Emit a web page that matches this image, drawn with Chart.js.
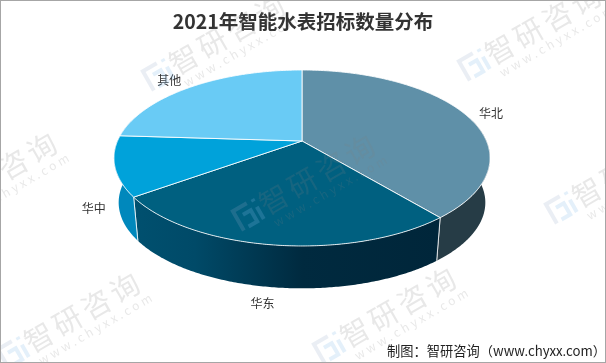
<!DOCTYPE html>
<html>
<head>
<meta charset="utf-8">
<style>
  html, body { margin: 0; padding: 0; background: #fff; }
  canvas { display: block; }
</style>
<script src="https://cdn.jsdelivr.net/npm/chart.js@4/dist/chart.umd.min.js"></script>
</head>
<body>
<canvas id="pie" width="606" height="363"></canvas>
<script>
const regions = ["华北", "华东", "华中", "其他"];
const shares = [39, 26, 11, 24];

const topColors = ["#5F90A8", "#006080", "#00A2DA", "#69CBF5"];
const wallStops = [
  [[0, "#263C46"], [1, "#263C46"]],
  [[0, "#00263A"], [0.45, "#002A3F"], [0.8, "#004A68"], [1, "#00506F"]],
  [[0, "#0088BC"], [1, "#0088BC"]],
  [[0, "#4FA8CC"], [1, "#4FA8CC"]],
];
const labelOffsets = [[26, -1], [-11, 59], [-21, 42], [-22, -6]];
const FONT = '"Noto Sans CJK SC", "Noto Sans", sans-serif';

// perspective of the tilted disc
const view = { cx: 302, cy: 141, rx: 184.5, ry: 84.7, tilt: 0.193, shrink: 0.975, drop: 45 };

function project(angle, shrink, drop) {
  const u = Math.cos(angle), v = Math.sin(angle);
  const w = 1 - view.tilt * v;
  return {
    x: view.cx + shrink * view.rx * u / w,
    y: view.cy + drop + shrink * view.ry * v / w,
  };
}

function traceRim(ctx, from, to, shrink, drop) {
  const steps = Math.max(2, Math.ceil(Math.abs(to - from) / 0.01));
  for (let i = 0; i <= steps; i++) {
    const p = project(from + (to - from) * i / steps, shrink, drop);
    ctx.lineTo(p.x, p.y);
  }
}

function drawWalls(ctx, arcs) {
  const lo = -0.25, hi = Math.PI + 0.25;
  arcs.forEach((arc, i) => {
    // angles can run past 2PI, bring them near the front of the disc
    let a = arc.startAngle, b = arc.endAngle;
    if (a > Math.PI * 1.5) { a -= Math.PI * 2; b -= Math.PI * 2; }
    const from = Math.max(a, lo), to = Math.min(b, hi);
    if (to <= from) return;
    const p1 = project(from, 1, 0), p2 = project(to, 1, 0);
    const grad = ctx.createLinearGradient(Math.max(p1.x, p2.x), 0, Math.min(p1.x, p2.x), 0);
    wallStops[i].forEach(s => grad.addColorStop(s[0], s[1]));
    ctx.beginPath();
    traceRim(ctx, from, to, 1, 0);
    traceRim(ctx, to, from, view.shrink, view.drop);
    ctx.closePath();
    ctx.fillStyle = grad;
    ctx.fill();
    // white seam where two walls meet
    ctx.strokeStyle = "rgba(255,255,255,0.75)";
    ctx.lineWidth = 1;
    [a, b].forEach(edge => {
      if (edge <= lo || edge >= hi) return;
      const t = project(edge, 1, 0), e = project(edge, view.shrink, view.drop);
      ctx.beginPath();
      ctx.moveTo(t.x, t.y);
      ctx.lineTo(e.x, e.y);
      ctx.stroke();
    });
  });
}

function drawFaces(ctx, arcs) {
  arcs.forEach((arc, i) => {
    ctx.beginPath();
    ctx.moveTo(view.cx, view.cy);
    traceRim(ctx, arc.startAngle, arc.endAngle, 1, 0);
    ctx.closePath();
    ctx.fillStyle = topColors[i];
    ctx.fill();
    ctx.strokeStyle = "rgba(255,255,255,0.85)";
    ctx.lineWidth = 1;
    ctx.stroke();
  });
}

function drawLabels(ctx, arcs) {
  ctx.font = "12px " + FONT;
  ctx.fillStyle = "#333";
  ctx.textAlign = "center";
  ctx.textBaseline = "middle";
  arcs.forEach((arc, i) => {
    const p = project((arc.startAngle + arc.endAngle) / 2, 1, 0);
    ctx.fillText(regions[i], p.x + labelOffsets[i][0], p.y + labelOffsets[i][1]);
  });
}

function drawMark(ctx, x, y) {
  ctx.save();
  ctx.translate(x, y);
  ctx.rotate(-Math.PI / 6);
  // logo
  ctx.lineWidth = 4;
  ctx.strokeStyle = "rgba(150,170,200,0.2)";
  ctx.beginPath();
  ctx.moveTo(-14, 12); ctx.lineTo(-14, -10); ctx.lineTo(2, -10);
  ctx.stroke();
  ctx.strokeStyle = "rgba(130,185,230,0.22)";
  ctx.beginPath();
  ctx.moveTo(-7, -2); ctx.lineTo(2, -2); ctx.lineTo(2, 11); ctx.lineTo(-8, 11);
  ctx.moveTo(9, -2); ctx.lineTo(9, 12);
  ctx.moveTo(9, -11); ctx.lineTo(9, -8);
  ctx.stroke();
  // text
  ctx.fillStyle = "rgba(130,130,130,0.18)";
  ctx.textAlign = "left";
  ctx.textBaseline = "middle";
  ctx.font = "29px " + FONT;
  ctx.letterSpacing = "4px";
  ctx.fillText("智研咨询", 13, 0);
  ctx.font = "12px " + FONT;
  ctx.letterSpacing = "3.2px";
  ctx.fillText("www.chyxx.com", 16, 21);
  ctx.restore();
}

const marks = [[160, 73], [476, 63], [-68, 211], [250, 213], [563, 206], [15, 351], [331, 346]];

const tiltedPie = {
  id: "tiltedPie",
  beforeDatasetDraw(chart, args) {
    const ctx = chart.ctx;
    const arcs = args.meta.data;
    drawWalls(ctx, arcs);
    drawFaces(ctx, arcs);
    return false;
  },
  afterDraw(chart) {
    const ctx = chart.ctx;
    ctx.save();
    drawLabels(ctx, chart.getDatasetMeta(0).data);
    marks.forEach(m => drawMark(ctx, m[0], m[1]));
    ctx.strokeStyle = "#A6A6A6";
    ctx.lineWidth = 1;
    ctx.strokeRect(0.5, 0.5, 605, 362);
    ctx.restore();
  },
};

new Chart(document.getElementById("pie"), {
  type: "pie",
  data: {
    labels: regions,
    datasets: [{ data: shares, backgroundColor: topColors, borderWidth: 0 }],
  },
  options: {
    responsive: false,
    animation: false,
    layout: { padding: 0 },
    plugins: {
      legend: { display: false },
      tooltip: { enabled: false },
      title: {
        display: true,
        text: "2021年智能水表招标数量分布",
        color: "#333",
        font: { family: FONT, size: 19.5, weight: "bold" },
        padding: { top: 10, bottom: 4 },
      },
      subtitle: {
        display: true,
        position: "bottom",
        align: "end",
        text: "制图：智研咨询（www.chyxx.com）",
        color: "#222",
        font: { family: FONT, size: 13.25, weight: "normal" },
        padding: { top: 0, bottom: 4 },
      },
    },
  },
  plugins: [tiltedPie],
});
</script>
</body>
</html>
